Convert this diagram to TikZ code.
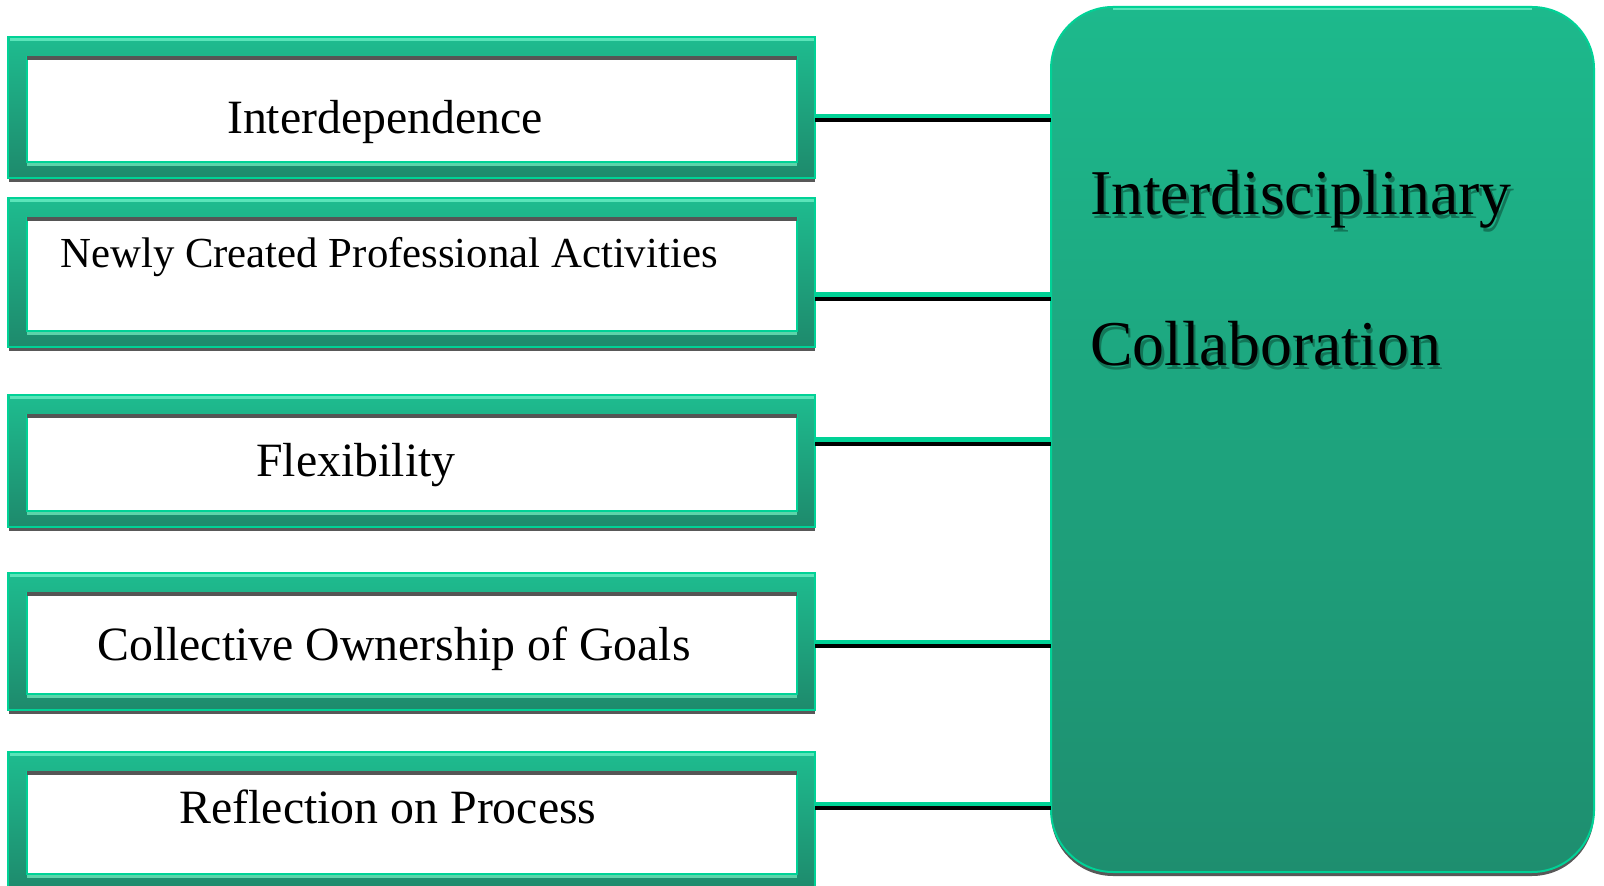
\documentclass[tikz,border=0pt]{standalone}
\usepackage{fontspec}
\setmainfont{Liberation Serif}
\usetikzlibrary{calc}
\definecolor{frametop}{RGB}{30,188,143}
\definecolor{framebot}{RGB}{30,138,108}
\definecolor{brightteal}{RGB}{0,210,150}
\definecolor{hilite}{RGB}{90,228,185}
\definecolor{lightstrip}{RGB}{92,212,170}
\definecolor{innershadow}{RGB}{85,85,85}
\definecolor{shadowgray}{RGB}{88,88,88}
\definecolor{bigtop}{RGB}{29,185,140}
\definecolor{bigbot}{RGB}{30,142,111}
\definecolor{txtshadow}{RGB}{18,118,88}
\newcommand\fsA{\fontsize{23.9pt}{28pt}\selectfont}
\newcommand\fsB{\fontsize{21.4pt}{26pt}\selectfont}
\newcommand\fsC{\fontsize{31.9pt}{37pt}\selectfont}
\tikzset{
  gframe/.style={rectangle, inner sep=0pt, outer sep=0pt, top color=frametop, bottom color=framebot, draw=brightteal, line width=0.75pt},
  bigframe/.style={rectangle, rounded corners=31pt, inner sep=0pt, outer sep=0pt, top color=bigtop, bottom color=bigbot, draw=brightteal, line width=1pt},
  label/.style={inner sep=0pt, outer sep=0pt, anchor=base, text=black},
  conn/.style={draw=brightteal, line width=2.2pt},
  connshadow/.style={draw=black, line width=2pt},
}
% name, top y, bottom y
\newcommand\gbox[3]{%
  \fill[shadowgray] (9,#2+4) rectangle (815,#3+4);
  \node[gframe, minimum width=403.5pt, minimum height={(#3-#2)*0.5pt}] (#1) at (411.5,{(#2+#3)/2}) {};
  \fill[hilite] ($(#1.north west)+(1.5,1)$) rectangle ($(#1.north east)+(-1.5,4)$);
  \fill[lightstrip] ($(#1.south west)+(19,-16)$) rectangle ($(#1.south east)+(-18,-12)$);
  \fill[white] ($(#1.north west)+(19,19)$) rectangle ($(#1.south east)+(-18,-16)$);
  \draw[brightteal, line width=0.6pt] ($(#1.north west)+(19,19)$) -- ($(#1.south west)+(19,-16)$) -- ($(#1.south east)+(-18,-16)$) -- ($(#1.north east)+(-18,19)$);
  \fill[innershadow] ($(#1.north west)+(19,19)$) rectangle ($(#1.north east)+(-18,23)$);
}
\begin{document}
\begin{tikzpicture}[x=0.5pt,y=-0.5pt]
\useasboundingbox (0,0) rectangle (1604,886);
% big box
\fill[shadowgray, rounded corners=31pt] (1051,11) rectangle (1594,876);
\node[bigframe, minimum width=271.5pt, minimum height=432.5pt] (big) at (1322.5,439.5) {};
\draw[hilite, line width=1pt] ($(big.north west)+(62,2.5)$) -- ($(big.north east)+(-62,2.5)$);
% small boxes
\gbox{b1}{37}{178}
\gbox{b2}{198}{347}
\gbox{b3}{395}{527}
\gbox{b4}{573}{710}
\gbox{b5}{752}{890}
% connectors
\foreach \n/\yy in {b1/116, b2/294.5, b3/439.5, b4/641.7, b5/803.7}{
  \draw[connshadow] (\n.east |- 0,\yy+4.3) -- (big.west |- 0,\yy+4.3);
  \draw[conn] (\n.east |- 0,\yy) -- (big.west |- 0,\yy);
}
% labels
\node[label, font=\fsA] (t1) at (385,134) {Interdependence};
\node[label, font=\fsB] (t2) at (389,268) {Newly Created Professional Activities};
\node[label, font=\fsA] (t3) at (356,477) {Flexibility};
\node[label, font=\fsA] (t4) at (394,660) {Collective Ownership of Goals};
\node[label, font=\fsA] (t5) at (388,823) {Reflection on Process};
% big labels with shadow
\node[label, anchor=base west, font=\fsC, text=txtshadow] at (1092.5,218.5) {Interdisciplinary};
\node[label, anchor=base west, font=\fsC] (tb1) at (1090,215) {Interdisciplinary};
\node[label, anchor=base west, font=\fsC, text=txtshadow] at (1092.5,369.5) {Collaboration};
\node[label, anchor=base west, font=\fsC] (tb2) at (1090,366) {Collaboration};
\end{tikzpicture}
\end{document}
